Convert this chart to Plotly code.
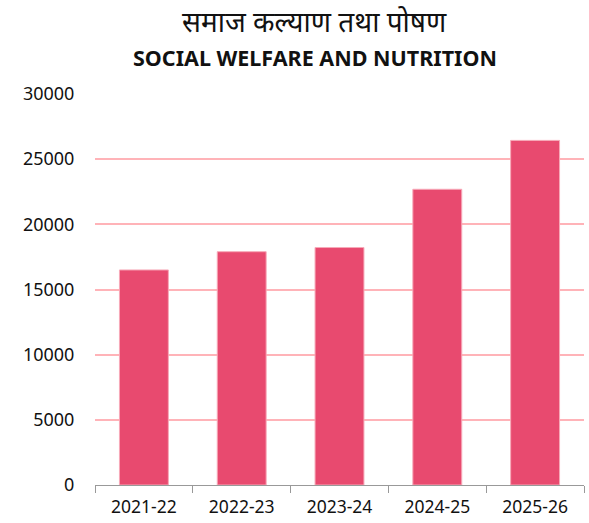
import plotly.graph_objects as go

years = ["2021-22", "2022-23", "2023-24", "2024-25", "2025-26"]
values = [16500, 17900, 18220, 22690, 26440]
y_ticks = [0, 5000, 10000, 15000, 20000, 25000, 30000]

fig = go.Figure()
fig.add_trace(go.Bar(
    x=years, y=values,
    marker=dict(color="#E84A6F", line=dict(color="#F7A9B8", width=1)),
    width=0.5,
))

H = 523
top_m, bot_m = 94, 38
plot_h = H - top_m - bot_m
L, R = 95, 5
plot_w = 589 - L - R

def py(pix):
    return (H - bot_m - pix) / plot_h

def px(pix):
    return (pix - L) / plot_w

fig.update_layout(
    width=589, height=H,
    margin=dict(l=L, r=R, t=top_m, b=bot_m, autoexpand=False),
    paper_bgcolor="white", plot_bgcolor="white",
    font=dict(family="Noto Sans, sans-serif", color="#111111", size=18),
    showlegend=False,
    annotations=[
        dict(text="समाज कल्याण तथा पोषण", x=px(314), xref="paper", xanchor="center",
             y=py(21), yref="paper", yanchor="middle", showarrow=False,
             font=dict(size=28, color="#111111", family="Noto Sans, sans-serif")),
        dict(text="<b>SOCIAL WELFARE AND NUTRITION</b>", x=px(315), xref="paper", xanchor="center",
             y=py(57), yref="paper", yanchor="middle", showarrow=False,
             font=dict(size=21.5, color="#111111", family="Noto Sans, sans-serif")),
    ],
    xaxis=dict(
        type="category", automargin=False,
        showline=True, linecolor="#999999", linewidth=1,
        ticks="outside", tickson="boundaries", ticklen=7, tickcolor="#999999",
        showgrid=False, ticklabelstandoff=6,
        tickfont=dict(size=17.5),
    ),
    yaxis=dict(
        automargin=False,
        range=[0, 30000], tickvals=y_ticks, ticktext=[str(v) for v in y_ticks],
        showgrid=True, gridcolor="#FFB3B8", gridwidth=1.5,
        zeroline=False, showline=False,
        ticks="outside", ticklen=16, tickcolor="rgba(0,0,0,0)",
        tickfont=dict(size=18),
    ),
)

fig.write_html("out.html", config={"displayModeBar": False},
               post_script="document.body.style.margin='0';document.body.style.overflow='hidden';")
